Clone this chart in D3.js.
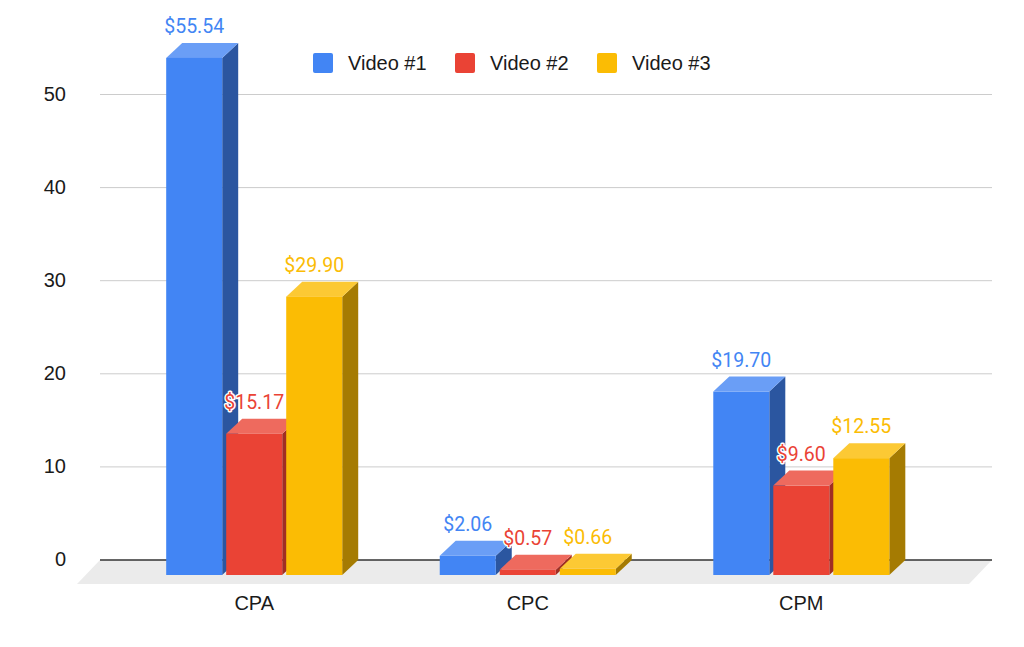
<!DOCTYPE html>
<html><head><meta charset="utf-8">
<script src="https://cdn.jsdelivr.net/npm/d3@7"></script>
<style>body{margin:0;background:#fff}svg{display:block}</style>
</head><body>
<svg id="c" width="1024" height="647"></svg>
<script>
const categories = ["CPA", "CPC", "CPM"];
const seriesNames = ["Video #1", "Video #2", "Video #3"];
const video1 = [55.54, 2.06, 19.70];
const video2 = [15.17, 0.57, 9.60];
const video3 = [29.90, 0.66, 12.55];
const yTicks = [0, 10, 20, 30, 40, 50];
const frontColors = ["#4285F4", "#EA4335", "#FBBC04"];
const topColors = ["#6A9EF6", "#EE6A5E", "#FCC934"];
const sideColors = ["#2B56A0", "#A02E24", "#A57B02"];

const seriesValues = [video1, video2, video3];
const svg = d3.select("#c");
const DX = 16, DY = 15;          // depth offset of 3D bars
const FDX = 23, FDY = 24;        // floor front offset from back plane

const x0 = d3.scaleBand().domain(categories).range([117.5, 938]).paddingInner(0.3565).paddingOuter(0.178);
const x1 = d3.scaleBand().domain(seriesNames).range([0, x0.bandwidth()]).paddingInner(4/60);
const y = d3.scaleLinear().domain([0, 50]).range([575, 109.5]);

const backLeft = 100, backRight = 992;
const y0b = y(0) - DY;

// floor
svg.append("path")
  .attr("d", `M${backLeft},${y0b}L${backRight},${y0b}L${backRight - FDX},${y0b + FDY}L${backLeft - FDX},${y0b + FDY}Z`)
  .attr("fill", "#ebebeb");

// gridlines
svg.append("g").selectAll("line").data(yTicks.filter(d => d !== 0)).join("line")
  .attr("x1", backLeft).attr("x2", backRight)
  .attr("y1", d => y(d) - DY).attr("y2", d => y(d) - DY)
  .attr("stroke", "#cccccc").attr("stroke-width", 1);
svg.append("line").attr("x1", backLeft).attr("x2", backRight)
  .attr("y1", y0b).attr("y2", y0b).attr("stroke", "#333").attr("stroke-width", 1.5);

// y tick labels
svg.append("g").selectAll("text").data(yTicks).join("text")
  .attr("x", 66).attr("y", d => y(d) - DY - 1)
  .attr("text-anchor", "end").attr("dominant-baseline", "central")
  .attr("font-family", "Liberation Sans, Arial, sans-serif").attr("font-size", 20)
  .attr("fill", "#1a1a1a").text(d => d);

// bars
const bars = [];
categories.forEach((c, ci) => {
  seriesNames.forEach((s, si) => {
    bars.push({c, s, si, v: seriesValues[si][ci]});
  });
});
const bg = svg.append("g");
bars.forEach(b => {
  const xl = x0(b.c) + x1(b.s), w = x1.bandwidth();
  const yt = y(b.v), yb = y(0);
  const g = bg.append("g");
  g.append("path").attr("d", `M${xl + w},${yt}L${xl + w + DX},${yt - DY}L${xl + w + DX},${yb - DY}L${xl + w},${yb}Z`)
    .attr("fill", sideColors[b.si]);
  g.append("path").attr("d", `M${xl},${yt}L${xl + DX},${yt - DY}L${xl + w + DX},${yt - DY}L${xl + w},${yt}Z`)
    .attr("fill", topColors[b.si]);
  g.append("rect").attr("x", xl).attr("y", yt).attr("width", w).attr("height", yb - yt)
    .attr("fill", frontColors[b.si]);
});

// value labels
svg.append("g").selectAll("text").data(bars).join("text")
  .attr("x", b => x0(b.c) + x1(b.s) + x1.bandwidth() / 2)
  .attr("y", b => y(b.v) - DY - 10)
  .attr("text-anchor", "middle")
  .attr("font-family", "Roboto, sans-serif").attr("font-size", 19.5)
  .attr("fill", b => frontColors[b.si])
  .attr("stroke", "#fff").attr("stroke-width", 3).attr("stroke-linejoin", "round")
  .attr("paint-order", "stroke")
  .text(b => "$" + b.v.toFixed(2));

// category labels
svg.append("g").selectAll("text").data(categories).join("text")
  .attr("x", d => x0(d) + x0.bandwidth() / 2).attr("y", 610)
  .attr("text-anchor", "middle")
  .attr("font-family", "Liberation Sans, Arial, sans-serif").attr("font-size", 20)
  .attr("fill", "#1a1a1a").text(d => d);

// legend
const lg = svg.append("g").selectAll("g").data(seriesNames).join("g")
  .attr("transform", (d, i) => `translate(${313 + i * 142},53)`);
lg.append("rect").attr("width", 20).attr("height", 20).attr("rx", 2)
  .attr("fill", (d, i) => frontColors[i]);
lg.append("text").attr("x", 35).attr("y", 17)
  .attr("font-family", "Liberation Sans, Arial, sans-serif").attr("font-size", 20)
  .attr("fill", "#1a1a1a").text(d => d);
</script>
</body></html>
